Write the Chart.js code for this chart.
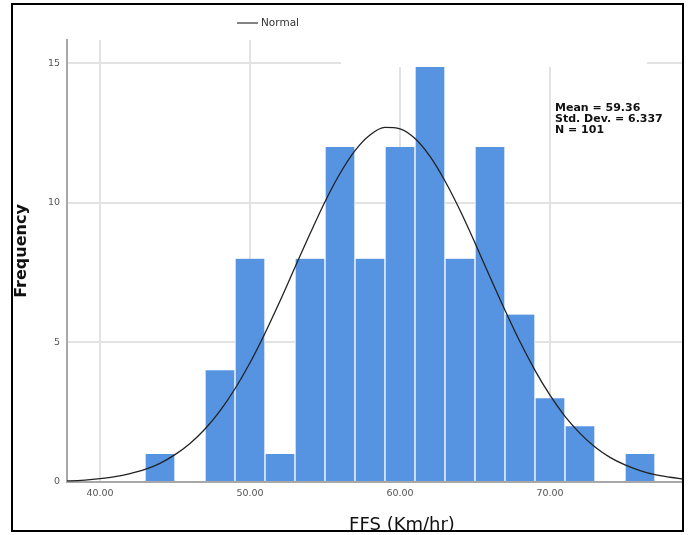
<!DOCTYPE html>
<html><head><meta charset="utf-8">
<script src="https://cdn.jsdelivr.net/npm/chart.js@4/dist/chart.umd.min.js"></script>
<style>
html,body{margin:0;padding:0;background:#fff;}
#wrap{position:relative;width:689px;height:535px;}
#frame{position:absolute;left:11px;top:3px;width:669px;height:525px;border:2px solid #000;pointer-events:none;}
canvas{display:block;}
</style></head><body>
<div id="wrap"><canvas id="c" width="689" height="535"></canvas><div id="frame"></div></div>
<script>
// Histogram bins (width 2, centres) and their frequencies
const binCenters = [44, 46, 48, 50, 52, 54, 56, 58, 60, 62, 64, 66, 68, 70, 72, 74, 76];
const frequencies = [1, 0, 4, 8, 1, 8, 12, 8, 12, 15, 8, 12, 6, 3, 2, 0, 1];
// Normal curve
const curveX = [37, 38, 39, 40, 41, 42, 43, 44, 45, 46, 47, 48, 49, 50, 51, 52, 53, 54, 55, 56, 57, 58, 59, 60,
                61, 62, 63, 64, 65, 66, 67, 68, 69, 70, 71, 72, 73, 74, 75, 76, 77, 78, 79];
const curveY = [0.03, 0.04, 0.07, 0.12, 0.19, 0.30, 0.45, 0.67, 0.98, 1.38, 1.90, 2.55, 3.34, 4.27, 5.33, 6.48,
                7.69, 8.89, 10.04, 11.05, 11.87, 12.43, 12.70, 12.65, 12.30, 11.66, 10.78, 9.73, 8.56, 7.34,
                6.15, 5.02, 4.00, 3.11, 2.35, 1.74, 1.25, 0.88, 0.61, 0.41, 0.26, 0.17, 0.10];
const xTicks = [40, 50, 60, 70];
const yTicks = [0, 5, 10, 15];
const xRange = [37.8, 78.8];
const yRange = [0, 15.83];
const statsLines = ['Mean = 59.36', 'Std. Dev. = 6.337', 'N = 101'];
const legendLabel = 'Normal';
const xTitle = 'FFS (Km/hr)';
const yTitle = 'Frequency';

Chart.defaults.font.family = "'DejaVu Sans', 'Liberation Sans', sans-serif";

const decor = {
  id: 'decor',
  afterDatasetsDraw(chart) {
    const {ctx, chartArea: a} = chart;
    ctx.save();
    // white patch present in the source image over the top of the plot
    ctx.fillStyle = '#fff';
    ctx.fillRect(341, a.top - 2, 306, 67 - a.top + 2);
    ctx.restore();
  },
  afterDraw(chart) {
    const {ctx} = chart;
    ctx.save();
    // legend
    ctx.strokeStyle = '#333';
    ctx.lineWidth = 1.2;
    ctx.beginPath();
    ctx.moveTo(237, 23);
    ctx.lineTo(258, 23);
    ctx.stroke();
    ctx.fillStyle = '#333';
    ctx.font = "10.5px 'DejaVu Sans'";
    ctx.textBaseline = 'middle';
    ctx.textAlign = 'left';
    ctx.fillText(legendLabel, 261, 23);
    // statistics box
    ctx.fillStyle = '#111';
    ctx.font = "bold 11px 'DejaVu Sans'";
    statsLines.forEach((t, i) => ctx.fillText(t, 555, 108.5 + i * 11));
    // axis titles
    ctx.fillStyle = '#111';
    ctx.textAlign = 'center';
    ctx.font = "18px 'DejaVu Sans'";
    ctx.fillText(xTitle, 402, 525);
    ctx.translate(21.5, 251);
    ctx.rotate(-Math.PI / 2);
    ctx.font = "bold 16px 'DejaVu Sans'";
    ctx.fillText(yTitle, 0, 0);
    ctx.restore();
  }
};

new Chart(document.getElementById('c'), {
  type: 'bar',
  data: {
    datasets: [
      {
        type: 'line',
        label: legendLabel,
        data: curveX.map((x, i) => ({x: x, y: curveY[i]})),
        borderColor: '#222',
        borderWidth: 1.3,
        pointRadius: 0,
        cubicInterpolationMode: 'monotone',
        fill: false,
        order: 0
      },
      {
        type: 'bar',
        label: 'Frequency',
        data: binCenters.map((x, i) => ({x: x, y: frequencies[i]})),
        backgroundColor: '#5694e2',
        borderColor: '#ffffff',
        borderWidth: {left: 1, right: 1, top: 0, bottom: 0},
        barPercentage: 1,
        categoryPercentage: 1,
        order: 1
      }
    ]
  },
  options: {
    responsive: false,
    animation: false,
    layout: {padding: {left: 12, right: 7, top: 40, bottom: 0}},
    plugins: {legend: {display: false}, tooltip: {enabled: false}},
    scales: {
      x: {
        type: 'linear',
        min: xRange[0],
        max: xRange[1],
        offset: false,
        grid: {offset: false, color: '#e2e2e2', lineWidth: 2, drawTicks: false},
        border: {color: '#a8a8a8', width: 2},
        afterBuildTicks: s => { s.ticks = xTicks.map(v => ({value: v})); },
        afterFit: s => { s.height = 53; },
        ticks: {
          padding: 6,
          color: '#555',
          font: {size: 9.5},
          maxRotation: 0,
          callback: v => Number(v).toFixed(2)
        }
      },
      y: {
        min: yRange[0],
        max: yRange[1],
        grid: {color: '#e2e2e2', lineWidth: 2, drawTicks: false},
        border: {color: '#a8a8a8', width: 2},
        afterBuildTicks: s => { s.ticks = yTicks.map(v => ({value: v})); },
        afterFit: s => { s.width = 55; },
        ticks: {padding: 7, color: '#555', font: {size: 9.5}}
      }
    }
  },
  plugins: [decor]
});
</script>
</body></html>
